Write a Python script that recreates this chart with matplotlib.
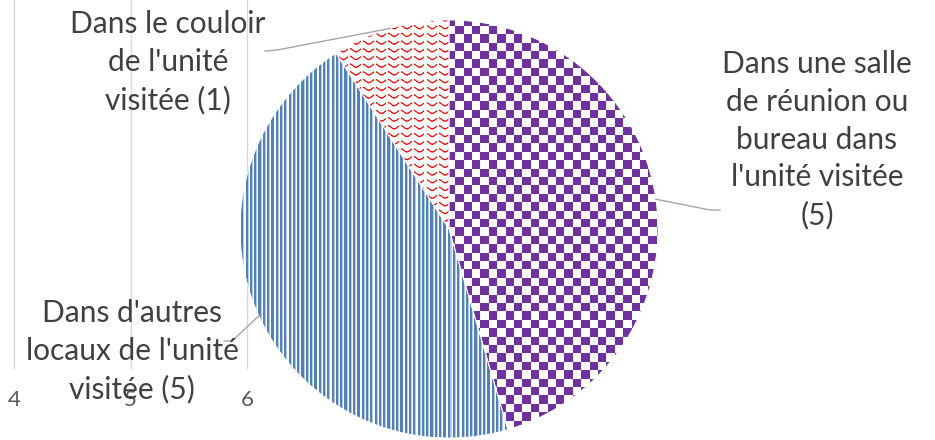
import numpy as np
import matplotlib
matplotlib.use("Agg")
import matplotlib.pyplot as plt
from matplotlib.lines import Line2D
from matplotlib.transforms import blended_transform_factory

# ---- data ----
categories = ["Dans une salle\nde réunion ou\nbureau dans\nl'unité visitée",
              "Dans d'autres\nlocaux de l'unité\nvisitée",
              "Dans le couloir\nde l'unité\nvisitée"]
values = [5, 5, 1]
axis_ticks = [4, 5, 6]

# ---- layout / style ----
label_sep = ["\n", " ", " "]
label_pos = [(817, 140), (132, 351), (168, 62)]          # px, top-origin
label_elbow = [[(710, 210), (720, 210)],
               [(232, 341), (224, 341)],
               [(277, 50), (265, 51)]]
W, H = 935, 440
R, CX, CY = 209, 449, 229
FONT = ['Lato', 'DejaVu Sans']
TXT = '#404040'

fig = plt.figure(figsize=(W / 100, H / 100), dpi=100)
fig.patch.set_facecolor('white')


def fx(px):
    return px / W


def fy(py):
    return 1 - py / H


# leftover background axis from a previous chart
bg = fig.add_axes([fx(14), fy(368), fx(247) - fx(14), fy(0) - fy(368)])
bg.set_xlim(axis_ticks[0], axis_ticks[-1])
bg.set_ylim(0, 1)
bg.axis('off')
btr = blended_transform_factory(bg.transData, bg.transAxes)
for t in axis_ticks:
    bg.plot([t, t], [0, 1], transform=btr, color='#d9d9d9', lw=1.0, clip_on=False)
    bg.text(t, -(406 - 368) / 368, str(t), transform=btr, ha='center', va='baseline',
            fontsize=16, color='#595959', family=FONT)

# pie
ax = fig.add_axes([fx(CX - R), fy(CY + R), 2 * R / W, 2 * R / H])
wedges, _ = ax.pie(values, startangle=90, counterclock=False, radius=1,
                   colors=['white'] * len(values), wedgeprops=dict(linewidth=0))

N = 2 * R
jj, ii = np.meshgrid(np.arange(N), np.arange(N))
X = CX - R + jj
Y = CY - R + ii


def rgba(mask_col_list):
    img = np.ones((N, N, 4))
    for inten, col in mask_col_list:
        c = np.array(col) / 255.0
        for k in range(3):
            img[..., k] = img[..., k] * (1 - inten) + c[k] * inten
    return img


# checkerboard purple
chk = (((X // 8.4).astype(int) + (Y // 8.4).astype(int)) % 2).astype(float)
img_purple = rgba([(chk, (112, 48, 160))])

# vertical stripes blue
frac = (X / 4.3) % 1.0
blue = (frac < 0.5).astype(float)
light = ((frac >= 0.5) & (frac < 0.72)).astype(float) * 0.45
img_blue = rgba([(light, (91, 138, 198)), (blue, (79, 129, 189))])

# wave pattern red
ph = (X / 12.7) % 1.0
yc = 3.5 + 1.6 * np.cos(2 * np.pi * ph)
d = np.abs((Y % 7.7) - yc)
inten = np.clip(1.3 - d / 0.9, 0, 1)
gap = ~((ph > 0.38) & (ph < 0.55))
inten = inten * gap
img_red = rgba([(inten, (255, 0, 0))])

for w, img in zip(wedges, [img_purple, img_blue, img_red]):
    im = ax.imshow(img, extent=(-1, 1, -1, 1), origin='upper', interpolation='nearest', zorder=2)
    im.set_clip_path(w)
for w in wedges:
    w.set_facecolor('none')
    w.set_edgecolor('white')
    w.set_linewidth(0.6)
    w.set_zorder(3)
ax.set_xlim(-1, 1)
ax.set_ylim(-1, 1)
ax.axis('off')

# labels and leader lines
inv = fig.transFigure.inverted()
for w, c, v, sep, (lx, ly), elbow in zip(wedges, categories, values, label_sep,
                                          label_pos, label_elbow):
    mid = np.deg2rad((w.theta1 + w.theta2) / 2)
    p = inv.transform(ax.transData.transform((np.cos(mid), np.sin(mid))))
    xs = [p[0]] + [fx(e[0]) for e in elbow]
    ys = [p[1]] + [fy(e[1]) for e in elbow]
    fig.add_artist(Line2D(xs, ys, transform=fig.transFigure, color='#a6a6a6', lw=1.0))
    fig.text(fx(lx), fy(ly), f"{c}{sep}({v})", ha='center', va='center',
             multialignment='center', fontsize=21.5, color=TXT, family=FONT,
             linespacing=1.42)

fig.savefig('out.png', dpi=100, facecolor='white')
